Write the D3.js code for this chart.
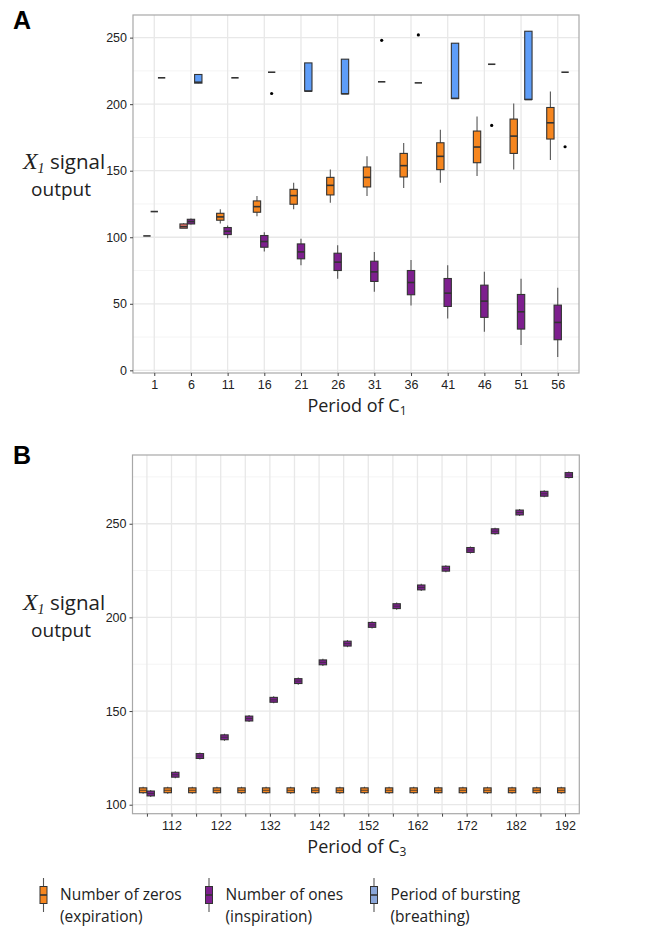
<!DOCTYPE html>
<html>
<head>
<meta charset="utf-8">
<script src="https://cdn.jsdelivr.net/npm/d3@7"></script>
<style>
  body { margin: 0; background: #fff; }
  svg text { font-family: "Open Sans", sans-serif; }
</style>
</head>
<body>
<div id="chart"></div>
<script>
// values: [low whisker, q1, median, q3, high whisker]
const periodsA = [1, 6, 11, 16, 21, 26, 31, 36, 41, 46, 51, 56];
const zerosA = [
  [101, 101, 101, 101, 101], [107, 106.8, 108, 110, 110.5], [110.3, 112.8, 115.3, 118, 121],
  [115.8, 118.8, 123, 127.3, 131], [121, 124.8, 131.3, 136, 141], [126, 131.8, 139, 145, 151],
  [131, 137.8, 145, 152.8, 160.8], [137, 145.3, 153.8, 163, 170.8], [141, 150.8, 160.8, 171, 180.8],
  [146, 156, 167.8, 179.8, 190.8], [151, 163, 176, 188.8, 200.5], [158, 173.8, 186, 197.5, 209.5]
];
const onesA = [
  [119.3, 119.3, 119.3, 119.3, 119.3], [109.5, 110, 111.8, 113.5, 114], [99.3, 102, 104.5, 107.3, 108.8],
  [89.3, 92.5, 96.8, 101.3, 103.8], [79, 83.8, 89, 95, 98.8], [68.8, 75, 81.3, 88, 94],
  [59, 66.8, 74, 82, 89], [48.8, 56.8, 66, 75, 83], [39, 48, 58, 69, 79],
  [29, 39.8, 52, 64, 74], [19, 31, 44, 57, 68.8], [10, 23, 36, 49, 62]
];
const burstA = [
  [219.8, 219.8, 219.8, 219.8, 219.8], [215.8, 215.8, 216.5, 222.3, 222.3], [219.8, 219.8, 219.8, 219.8, 219.8],
  [224, 224, 224, 224, 224], [209.8, 209.8, 209.8, 231, 231], [207.8, 207.8, 207.8, 233.8, 233.8],
  [216.8, 216.8, 216.8, 216.8, 216.8], [216, 216, 216, 216, 216], [204.3, 204.3, 204.3, 245.8, 245.8],
  [230, 230, 230, 230, 230], [203.5, 203.5, 203.5, 254.8, 254.8], [224, 224, 224, 224, 224]
];
const burstOutliersA = [[16, 208], [31, 248], [36, 252], [46, 184], [56, 168]];
const oddZerosPeriod = 6; // this box is drawn salmon in the original

const periodsB = [107, 112, 117, 122, 127, 132, 137, 142, 147, 152, 157, 162, 167, 172, 177, 182, 187, 192];
const zerosMedB = [107.7, 107.7, 107.7, 107.7, 107.7, 107.7, 107.7, 107.7, 107.7, 107.7, 107.7, 107.7, 107.7, 107.7, 107.7, 107.7, 107.7, 107.7];
const onesMedB = [106, 116, 126, 136, 146, 156, 166, 176, 186, 196, 206, 216, 226, 236, 246, 256, 266, 276];

const ticksA = [1, 6, 11, 16, 21, 26, 31, 36, 41, 46, 51, 56];
const yTicksA = [0, 50, 100, 150, 200, 250];
const ticksB = [107, 112, 117, 122, 127, 132, 137, 142, 147, 152, 157, 162, 167, 172, 177, 182, 187, 192];
const labelTicksB = [112, 122, 132, 142, 152, 162, 172, 182, 192];
const yTicksB = [100, 150, 200, 250];

const legendItems = [
  { line1: "Number of zeros", line2: "(expiration)", color: "#f6861f" },
  { line1: "Number of ones", line2: "(inspiration)", color: "#7d1f8e" },
  { line1: "Period of bursting", line2: "(breathing)", color: "#8aa6d8" }
];

const ORANGE = "#f6861f", PURPLE = "#7d1f8e", BLUE = "#5e9df8", SALMON = "#f2776e";

const svg = d3.select("#chart").append("svg").attr("width", 655).attr("height", 934);

function panel(x, y, xTicks, xLabelTicks, yTicks, yMinor, xTitleSub, yTop) {
  const g = svg.append("g");
  const [x0, x1] = x.range();
  const [y0, y1] = y.range();

  // grid
  g.selectAll(null).data(yMinor).join("line")
    .attr("x1", x0).attr("x2", x1).attr("y1", d => y(d)).attr("y2", d => y(d))
    .attr("stroke", "#f4f4f4").attr("stroke-width", 1);
  g.selectAll(null).data(yTicks).join("line")
    .attr("x1", x0).attr("x2", x1).attr("y1", d => y(d)).attr("y2", d => y(d))
    .attr("stroke", "#e8e8e8").attr("stroke-width", 1.3);
  g.selectAll(null).data(xTicks).join("line")
    .attr("x1", d => x(d)).attr("x2", d => x(d)).attr("y1", y0).attr("y2", y1)
    .attr("stroke", "#e8e8e8").attr("stroke-width", 1.3);

  g.append("rect").attr("x", x0).attr("y", y1).attr("width", x1 - x0).attr("height", y0 - y1)
    .attr("fill", "none").attr("stroke", "#a8a8a8").attr("stroke-width", 1.2);

  const xAxis = d3.axisBottom(x).tickValues(xTicks).tickSize(3).tickPadding(4)
    .tickFormat(d => xLabelTicks.includes(d) ? d : "");
  const ax = g.append("g").attr("transform", `translate(0,${y0})`).call(xAxis);
  const yAxis = d3.axisLeft(y).tickValues(yTicks).tickSize(3).tickPadding(3);
  const ay = g.append("g").attr("transform", `translate(${x0},0)`).call(yAxis);
  [ax, ay].forEach(a => {
    a.select(".domain").remove();
    a.selectAll("line").attr("stroke", "#444");
    a.selectAll("text").attr("fill", "#222").style("font-family", "'Liberation Sans', Arial, sans-serif")
      .style("font-size", "12.5px");
  });

  // axis titles
  const xt = g.append("text").attr("x", (x0 + x1) / 2 + 1).attr("y", y0 + 39)
    .attr("text-anchor", "middle").style("font-size", "18px").attr("fill", "#222");
  xt.append("tspan").text("Period of C");
  xt.append("tspan").attr("dy", 3).style("font-size", "12px").text(xTitleSub);

  const yt = g.append("text").attr("x", 64).attr("y", yTop).attr("text-anchor", "middle")
    .style("font-size", "20.5px").attr("fill", "#222");
  yt.append("tspan").style("font-family", "'Liberation Serif', serif").style("font-style", "italic")
    .style("font-size", "24px").text("X");
  yt.append("tspan").attr("dy", 4).style("font-family", "'Liberation Serif', serif")
    .style("font-style", "italic").style("font-size", "14px").text("1");
  yt.append("tspan").attr("dy", -4).text("\u00a0signal");
  g.append("text").attr("x", 61).attr("y", yTop + 27).attr("text-anchor", "middle")
    .style("font-size", "19px").attr("fill", "#222").text("output");

  return g;
}

function drawBoxes(g, x, y, periods, stats, offset, width, fill, medW) {
  const rows = periods.map((p, i) => ({ p, s: stats[i] }));
  const b = g.append("g").selectAll("g").data(rows).join("g");
  b.append("line")
    .attr("x1", d => x(d.p + offset)).attr("x2", d => x(d.p + offset))
    .attr("y1", d => y(d.s[0])).attr("y2", d => y(d.s[4]))
    .attr("stroke", "#555").attr("stroke-width", 1.1);
  b.append("rect")
    .attr("x", d => x(d.p + offset - width / 2))
    .attr("width", d => x(d.p + offset + width / 2) - x(d.p + offset - width / 2))
    .attr("y", d => y(d.s[3]))
    .attr("height", d => Math.max(0, y(d.s[1]) - y(d.s[3])))
    .attr("fill", d => typeof fill === "function" ? fill(d) : fill)
    .attr("stroke", "#333").attr("stroke-width", 1.1);
  b.append("line")
    .attr("x1", d => x(d.p + offset - width / 2)).attr("x2", d => x(d.p + offset + width / 2))
    .attr("y1", d => y(d.s[2])).attr("y2", d => y(d.s[2]))
    .attr("stroke", "#333").attr("stroke-width", medW || 1.6);
}

// ---- Panel A
const xA = d3.scaleLinear().domain([-1.9, 58.9]).range([133, 579]);
const yA = d3.scaleLinear().domain([-2, 267]).range([373, 15]);
const gA = panel(xA, yA, ticksA, ticksA, yTicksA, [25, 75, 125, 175, 225], "1", 169);
drawBoxes(gA, xA, yA, periodsA, zerosA, -1, 1, d => d.p === oddZerosPeriod ? SALMON : ORANGE);
drawBoxes(gA, xA, yA, periodsA, onesA, 0, 1, PURPLE);
drawBoxes(gA, xA, yA, periodsA, burstA, 1, 1, BLUE);
gA.selectAll(null).data(burstOutliersA).join("circle")
  .attr("cx", d => xA(d[0] + 1)).attr("cy", d => yA(d[1])).attr("r", 1.6).attr("fill", "#000");

// ---- Panel B
const xB = d3.scaleLinear().domain([104.07, 194.9]).range([132.5, 579.3]);
const yB = d3.scaleLinear().domain([95.2, 286.7]).range([813.7, 455]);
const gB = panel(xB, yB, ticksB, labelTicksB, yTicksB, [125, 175, 225, 275], "3", 610);
const zerosB = zerosMedB.map(m => [m - 1.9, m - 1.3, m, m + 1.3, m + 1.9]);
const onesB = onesMedB.map(m => [m - 1.9, m - 1.3, m, m + 1.3, m + 1.9]);
drawBoxes(gB, xB, yB, periodsB, zerosB, -0.77, 1.5, ORANGE, 0.8);
drawBoxes(gB, xB, yB, periodsB, onesB, 0.77, 1.5, PURPLE, 0.8);

// panel letters
svg.append("text").attr("x", 13).attr("y", 29).style("font-family", "'Liberation Sans', Arial, sans-serif")
  .style("font-weight", "bold").style("font-size", "25px").text("A");
svg.append("text").attr("x", 13).attr("y", 464).style("font-family", "'Liberation Sans', Arial, sans-serif")
  .style("font-weight", "bold").style("font-size", "25px").text("B");

// ---- Legend
const legX = [43.5, 209, 374];
const leg = svg.append("g").selectAll("g").data(legendItems).join("g")
  .attr("transform", (d, i) => `translate(${legX[i]},0)`);
leg.append("line").attr("x1", 0).attr("x2", 0).attr("y1", 878).attr("y2", 912)
  .attr("stroke", "#555").attr("stroke-width", 1.1);
leg.append("rect").attr("x", -3.5).attr("y", 886.5).attr("width", 7).attr("height", 17)
  .attr("fill", d => d.color).attr("stroke", "#333").attr("stroke-width", 1);
leg.append("line").attr("x1", -3.5).attr("x2", 3.5).attr("y1", 895).attr("y2", 895)
  .attr("stroke", "#333").attr("stroke-width", 1.6);
leg.append("text").attr("x", 16.5).attr("y", 900).style("font-size", "15.5px").attr("fill", "#222")
  .text(d => d.line1);
leg.append("text").attr("x", 16.5).attr("y", 922).style("font-size", "15.5px").attr("fill", "#222")
  .text(d => d.line2);
</script>
</body>
</html>
